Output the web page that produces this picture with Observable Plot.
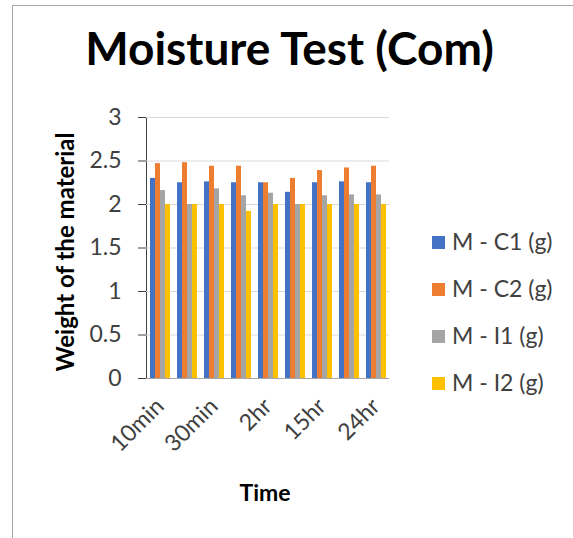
<!DOCTYPE html>
<html>
<head>
<meta charset="utf-8">
<script src="https://cdn.jsdelivr.net/npm/d3@7"></script>
<script src="https://cdn.jsdelivr.net/npm/@observablehq/plot@0.6"></script>
<style>
  html, body { margin: 0; padding: 0; background: #fff; }
  #chart { position: relative; width: 573px; height: 538px; font-family: Lato, sans-serif; overflow: hidden; }
  #border { position: absolute; left: 12px; top: 5px; width: 600px; height: 600px; border-top: 1px solid #a6a6a6; border-left: 1px solid #a6a6a6; }
  #title { position: absolute; left: 0; width: 579px; top: 25px; text-align: center; font-weight: bold; font-size: 46px; line-height: 1; color: #000; }
  #ytitle { position: absolute; left: 65px; top: 252px; transform: translate(-50%, -50%) rotate(-90deg); white-space: nowrap; font-weight: bold; font-size: 24px; line-height: 1; color: #000; }
  #xtitle { position: absolute; left: 265px; top: 481px; transform: translateX(-50%); font-weight: bold; font-size: 23px; line-height: 1; color: #000; }
  #legend { position: absolute; left: 432px; top: 230px; display: flex; flex-direction: column; gap: 24px; font-size: 23px; line-height: 1; color: #404040; }
  .item { display: flex; align-items: center; height: 23px; white-space: nowrap; }
  .sw { width: 13px; height: 13px; margin-right: 7px; margin-top: 2px; }
  #plot { position: absolute; left: 0; top: 0; }
  #plot svg [aria-label="y-axis tick"] { stroke: #a6a6a6; }
</style>
</head>
<body>
<div id="chart">
  <div id="border"></div>
  <div id="plot"></div>
  <div id="title">Moisture Test (Com)</div>
  <div id="ytitle">Weight of the material</div>
  <div id="xtitle">Time</div>
  <div id="legend"></div>
</div>
<script>
const times = ["10min", "20min", "30min", "1hr", "2hr", "5hr", "15hr", "20hr", "24hr"];
const labeledTimes = ["10min", "30min", "2hr", "15hr", "24hr"];
const series = ["M - C1 (g)", "M - C2 (g)", "M - I1 (g)", "M - I2 (g)"];
const colors = ["#4472C4", "#ED7D31", "#A5A5A5", "#FFC000"];
const c1 = [2.30, 2.25, 2.26, 2.25, 2.25, 2.14, 2.25, 2.26, 2.25];
const c2 = [2.47, 2.48, 2.44, 2.44, 2.25, 2.30, 2.39, 2.42, 2.44];
const i1 = [2.16, 2.00, 2.18, 2.10, 2.13, 2.00, 2.10, 2.11, 2.11];
const i2 = [2.00, 2.00, 2.00, 1.92, 2.00, 2.00, 2.00, 2.00, 2.00];
const yTicks = [0, 0.5, 1, 1.5, 2, 2.5, 3];

const seriesValues = [c1, c2, i1, i2];
const rows = times.flatMap((t, i) => series.map((s, j) => ({time: t, series: s, value: seriesValues[j][i]})));

const chart = Plot.plot({
  width: 573,
  height: 538,
  marginLeft: 145,
  marginRight: 184,
  marginTop: 117,
  marginBottom: 160,
  style: {fontFamily: "Lato, sans-serif", fontSize: "23px", color: "#404040", background: "transparent", overflow: "visible"},
  fx: {domain: times, padding: 0, label: null, tickRotate: -45, tickSize: 0, tickPadding: 24,
       tickFormat: d => labeledTimes.includes(d) ? d : ""},
  x: {domain: series, axis: null, paddingInner: 0, paddingOuter: 0.7},
  y: {domain: [0, 3], ticks: yTicks, tickSize: 8, tickPadding: 17, label: null, tickFormat: d => String(d), line: true},
  color: {domain: series, range: colors},
  marks: [
    Plot.gridY(yTicks, {stroke: "#d9d9d9", strokeOpacity: 1}),
    Plot.barY(rows, {fx: "time", x: "series", y: "value", fill: "series"}),
    Plot.ruleY([0], {stroke: "#a6a6a6"})
  ]
});
document.getElementById("plot").appendChild(chart);

const legend = document.getElementById("legend");
series.forEach((s, i) => {
  const item = document.createElement("div");
  item.className = "item";
  const sw = document.createElement("span");
  sw.className = "sw";
  sw.style.background = colors[i];
  const tx = document.createElement("span");
  tx.textContent = s;
  item.appendChild(sw);
  item.appendChild(tx);
  legend.appendChild(item);
});
</script>
</body>
</html>
